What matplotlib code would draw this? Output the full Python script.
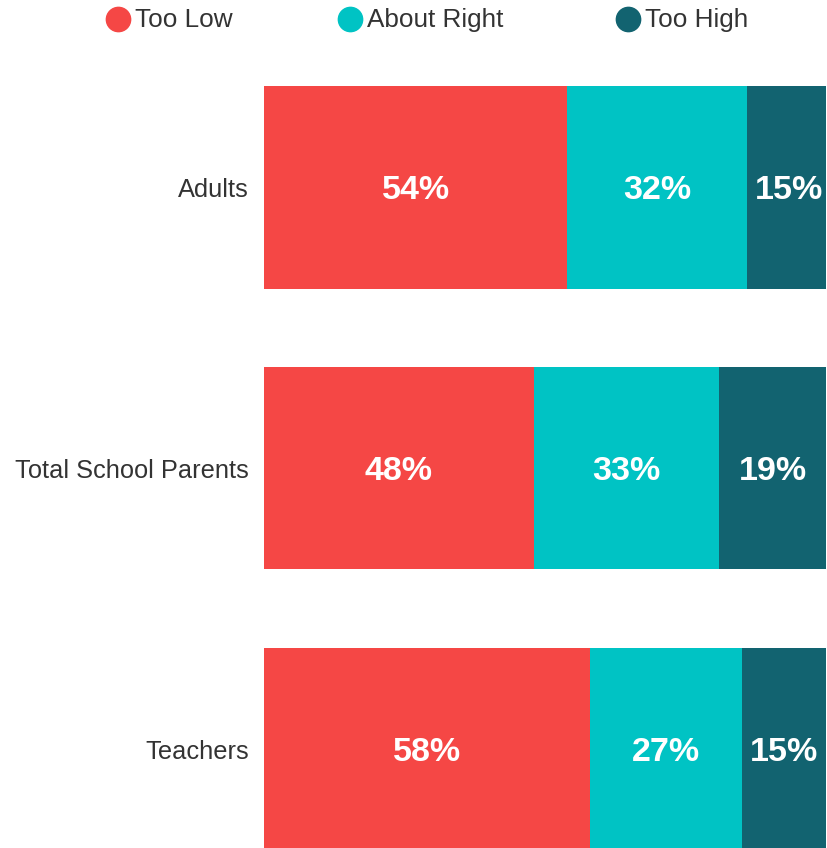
import numpy as np
import matplotlib
matplotlib.use('Agg')
import matplotlib.pyplot as plt
from matplotlib.lines import Line2D

plt.rcParams['font.family'] = ['Liberation Sans', 'DejaVu Sans']

groups = ['Adults', 'Total School Parents', 'Teachers']
series = ['Too Low', 'About Right', 'Too High']
too_low = [54, 48, 58]
about_right = [32, 33, 27]
too_high = [15, 19, 15]
colors = ['#F54745', '#00C3C4', '#126370']

W, H = 828, 848
fig = plt.figure(figsize=[W / 100, H / 100], dpi=100)
# axes left edge at the bar start, running off the bottom like the reference
ax = fig.add_axes([264 / W, 0.0, (826 - 264) / W, 1 - 55 / H])

y = np.arange(len(groups))
values = [too_low, about_right, too_high]
left = np.zeros(len(groups))
for name, vals, col in zip(series, values, colors):
    vals = np.array(vals, dtype=float)
    ax.barh(y, vals, left=left, height=0.72, color=col, label=name,
            edgecolor='none')
    for yi, l, v in zip(y, left, vals):
        ax.text(l + v / 2, yi, f'{int(v)}%', ha='center',
                va='center_baseline', color='white', fontsize=24.5,
                fontweight='bold')
    left += vals

ax.set_xlim(0, 100)
ax.set_ylim(2 + (848 - 749) / 281, -(187.5 - 55) / 281)
ax.set_yticks(y)
ax.set_yticklabels(groups, fontsize=18.3, color='#333333')
ax.tick_params(axis='y', length=0, pad=11)
ax.set_xticks([])
for s in ax.spines.values():
    s.set_visible(False)

# legend drawn by hand so the gaps between entries follow the reference
marker_x = [118, 350, 628]
for name, col, mx in zip(series, colors, marker_x):
    fig.add_artist(Line2D([mx / W], [1 - 19 / H], transform=fig.transFigure,
                          marker='o', markersize=17.5, linestyle='none',
                          markerfacecolor=col, markeredgecolor=col))
    fig.text((mx + 17) / W, 1 - 20 / H, name, ha='left', va='center',
             fontsize=18.8, color='#333333')

fig.savefig('out.png', dpi=100)
